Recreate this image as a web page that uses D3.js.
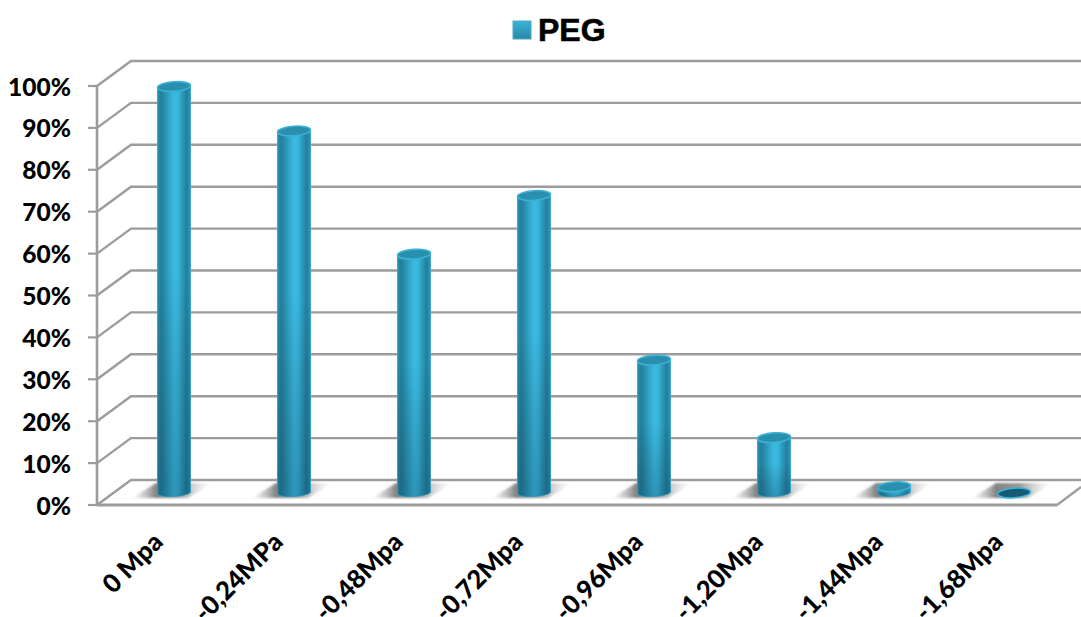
<!DOCTYPE html>
<html><head><meta charset="utf-8">
<script src="https://cdn.jsdelivr.net/npm/d3@7"></script>
<style>html,body{margin:0;padding:0;background:#fff}svg{display:block}</style>
</head><body><div id="c"></div>
<script>
const categories=["0 Mpa","-0,24MPa","-0,48Mpa","-0,72Mpa","-0,96Mpa","-1,20Mpa","-1,44Mpa","-1,68Mpa"];
const values=[97,86.4,57,71,31.7,13.2,1.5,0];
const yTicks=[0,10,20,30,40,50,60,70,80,90,100];
const seriesName="PEG";

const W=1081,H=617;
const svg=d3.select("#c").append("svg").attr("width",W).attr("height",H);
const defs=svg.append("defs");
const gb=defs.append("linearGradient").attr("id","bar").attr("x1",0).attr("x2",1).attr("y1",0).attr("y2",0);
[[0,"#2a8fae"],[.12,"#247f9d"],[.5,"#3abbe2"],[.62,"#38b6dc"],[.88,"#247f9d"],[1,"#2e97b7"]].forEach(s=>gb.append("stop").attr("offset",s[0]).attr("stop-color",s[1]));
const dk=defs.append("linearGradient").attr("id","fade").attr("x1",0).attr("x2",0).attr("y1",0).attr("y2",1);
dk.append("stop").attr("offset",0).attr("stop-color","#000").attr("stop-opacity",0);
dk.append("stop").attr("offset",.45).attr("stop-color","#000").attr("stop-opacity",0);
dk.append("stop").attr("offset",1).attr("stop-color","#06283a").attr("stop-opacity",.25);
const sh=defs.append("linearGradient").attr("id","shadow").attr("x1",0).attr("x2",1).attr("y1",0).attr("y2",0);
[[0,"#aaa",0],[.3,"#7d7d7d",.95],[.6,"#999",1],[1,"#ddd",0]].forEach(s=>sh.append("stop").attr("offset",s[0]).attr("stop-color",s[1]).attr("stop-opacity",s[2]));
defs.append("filter").attr("id","soft").append("feGaussianBlur").attr("stdDeviation",0.5);
defs.append("filter").attr("id","soft2").append("feGaussianBlur").attr("stdDeviation",1.2);

const y=d3.scaleLinear().domain([0,100]).range([505,86]);
const x=d3.scalePoint().domain(categories).range([174,1014]);
const depthX=34,depthY=25,barDepth=12,barR=16.5,ell=4.8;
const wallRight=1081,floorRight=1057,axisX=97;
const grey="#9c9c9c";

const g=svg.append("g").attr("filter","url(#soft)");
yTicks.forEach(t=>{
 g.append("path").attr("d",d3.line()([[axisX,y(t)],[axisX+depthX,y(t)-depthY],[wallRight,y(t)-depthY]])).attr("fill","none").attr("stroke",grey).attr("stroke-width",2.4);
 g.append("line").attr("x1",axisX-9).attr("x2",axisX).attr("y1",y(t)).attr("y2",y(t)).attr("stroke",grey).attr("stroke-width",2.2);
});
g.append("line").attr("x1",axisX).attr("x2",axisX).attr("y1",y(100)).attr("y2",y(0)+1).attr("stroke",grey).attr("stroke-width",2.6);
g.append("line").attr("x1",axisX).attr("x2",floorRight).attr("y1",y(0)).attr("y2",y(0)).attr("stroke",grey).attr("stroke-width",2.8);
g.append("line").attr("x1",floorRight).attr("x2",floorRight+24).attr("y1",y(0)).attr("y2",y(0)-18).attr("stroke",grey).attr("stroke-width",2.2);

// shadows
svg.append("g").selectAll("path").data(categories).join("path")
 .attr("filter","url(#soft2)")
 .attr("d",d=>{const c=x(d);return d3.line()([[c-42,498],[c-18,483],[c+38,483],[c+14,498]]);})
 .attr("fill","url(#shadow)");

// bars
const bodyPath=d=>{
 const c=x(d.c),b=y(0)-barDepth,t=y(d.v)-barDepth,p=d3.path();
 p.moveTo(c-barR,t);p.lineTo(c-barR,b);
 p.bezierCurveTo(c-barR,b+ell*1.3,c+barR,b+ell*.7,c+barR,b-1);
 p.lineTo(c+barR,t);p.closePath();return p.toString();};
const bars=svg.append("g").attr("filter","url(#soft)").selectAll("g").data(categories.map((c,i)=>({c,v:values[i]}))).join("g");
bars.append("path").attr("d",bodyPath).attr("fill","url(#bar)").attr("stroke","#3aa9cb").attr("stroke-width",1);
bars.append("path").attr("d",bodyPath).attr("fill","url(#fade)");
bars.append("ellipse").attr("cx",d=>x(d.c)).attr("cy",d=>y(d.v)-barDepth)
 .attr("rx",barR).attr("ry",ell)
 .attr("transform",d=>`rotate(-4 ${x(d.c)} ${y(d.v)-barDepth})`)
 .attr("fill",d=>d.v===0?"#155a75":"#2b8fae").attr("stroke","#3ab2d6").attr("stroke-width",1.6);

// y tick labels
svg.append("g").selectAll("text").data(yTicks).join("text")
 .attr("x",71).attr("y",t=>y(t)+9.5).attr("text-anchor","end")
 .attr("font-family","Lato, 'Open Sans', sans-serif").attr("font-weight",900).attr("font-size",24.5)
 .attr("fill","#000").text(t=>t+"%");
// x labels
svg.append("g").selectAll("text").data(categories).join("text")
 .attr("text-anchor","end")
 .attr("transform",d=>`translate(${x(d)-23},${530}) rotate(-45)`)
 .attr("dy","0.75em")
 .attr("font-family","Lato, 'Open Sans', sans-serif").attr("font-weight",900).attr("font-size",25.5)
 .attr("fill","#000").text(d=>d);

// legend
const lg=defs.append("linearGradient").attr("id","lg").attr("x1",0).attr("x2",0).attr("y1",0).attr("y2",1);
lg.append("stop").attr("offset",0).attr("stop-color","#3ab4d8");lg.append("stop").attr("offset",1).attr("stop-color","#2a86a6");
svg.append("rect").attr("x",513).attr("y",21).attr("width",18).attr("height",18).attr("fill","url(#lg)").attr("stroke","#4fa9c6");
svg.append("text").attr("x",538).attr("y",41).attr("font-family","'Liberation Sans',Arial,sans-serif").attr("font-weight",700).attr("font-size",32).attr("stroke","#000").attr("stroke-width",.6).text(seriesName);
</script></body></html>
